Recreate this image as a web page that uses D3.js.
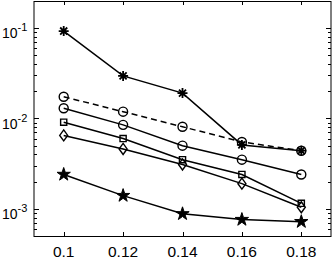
<!DOCTYPE html>
<html lang="en">
<head>
<meta charset="utf-8">
<title>Error plot</title>
<script src="https://d3js.org/d3.v7.min.js"></script>
<style>
  body { margin: 0; background: #fff; }
  text { font-family: "Liberation Sans", Arial, sans-serif; fill: #000; }
</style>
</head>
<body>
<script>
const xVals = [0.1, 0.12, 0.14, 0.16, 0.18];
const xTicks = [0.1, 0.12, 0.14, 0.16, 0.18];
const yMajor = [1e-3, 1e-2, 1e-1];
const yExp = ['-3', '-2', '-1'];

const sAsterisk = [0.093, 0.0296, 0.0191, 0.0051, 0.0044];
const sCircleDash = [0.0174, 0.0119, 0.0081, 0.0055, 0.0044];
const sCircle = [0.0130, 0.0085, 0.0050, 0.0035, 0.0024];
const sSquare = [0.0091, 0.0060, 0.0035, 0.0024, 0.00115];
const sDiamond = [0.0065, 0.0046, 0.0031, 0.0019, 0.00104];
const sStar = [0.0024, 0.0014, 0.00088, 0.00076, 0.00072];

const w = 332, h = 259;
const mLeft = 34, mRight = 331, mTop = 1, mBottom = 236;

const x = d3.scaleLinear().domain([0.09, 0.19]).range([mLeft, mRight]);
const y = d3.scaleLog().domain([5e-4, 0.2]).range([mBottom, mTop]);

const svg = d3.select('body').append('svg')
  .attr('width', w)
  .attr('height', h);

// log minor ticks
const minor = [];
[1e-4, 1e-3, 1e-2, 1e-1].forEach(p => {
  for (let k = 2; k <= 9; k++) {
    const v = k * p;
    if (v >= 5e-4 && v <= 0.2) minor.push(v);
  }
});

const ax = svg.append('g').attr('stroke', '#000').attr('stroke-width', 1);
minor.forEach(v => {
  const yy = Math.round(y(v)) + 0.5;
  ax.append('line').attr('x1', mLeft).attr('x2', mLeft + 3).attr('y1', yy).attr('y2', yy);
  ax.append('line').attr('x1', mRight).attr('x2', mRight - 3).attr('y1', yy).attr('y2', yy);
});
yMajor.forEach(v => {
  const yy = Math.round(y(v)) + 0.5;
  ax.append('line').attr('x1', mLeft).attr('x2', mLeft + 5).attr('y1', yy).attr('y2', yy);
  ax.append('line').attr('x1', mRight).attr('x2', mRight - 5).attr('y1', yy).attr('y2', yy);
});
xTicks.forEach(v => {
  const xx = Math.round(x(v)) + 0.5;
  ax.append('line').attr('x1', xx).attr('x2', xx).attr('y1', mBottom).attr('y2', mBottom - 4);
  ax.append('line').attr('x1', xx).attr('x2', xx).attr('y1', mTop).attr('y2', mTop + 4);
});
ax.append('rect')
  .attr('x', mLeft).attr('y', mTop + 0.5)
  .attr('width', mRight - mLeft).attr('height', mBottom - mTop)
  .attr('fill', 'none');

// tick labels
svg.selectAll('.xl').data(xTicks).enter().append('text')
  .attr('class', 'xl')
  .attr('x', d => x(d))
  .attr('y', 257)
  .attr('text-anchor', 'middle')
  .attr('font-size', 15.5)
  .text(d => d3.format('')(d));

yMajor.forEach((v, i) => {
  const t = svg.append('text')
    .attr('x', 2)
    .attr('y', y(v) + 10)
    .attr('font-size', 14);
  t.append('tspan').text('10');
  t.append('tspan').attr('dy', -7).attr('font-size', 11).text(yExp[i]);
});

// series
const line = d3.line()
  .x((d, i) => x(xVals[i]))
  .y(d => y(d));

const series = [
  { data: sAsterisk, marker: 'asterisk', dash: null },
  { data: sCircleDash, marker: 'circle', dash: '6,4' },
  { data: sCircle, marker: 'circle', dash: null },
  { data: sSquare, marker: 'square', dash: null },
  { data: sDiamond, marker: 'diamond', dash: null },
  { data: sStar, marker: 'star', dash: null }
];

function asteriskPath(r) {
  const a = r * Math.SQRT1_2;
  return `M${-r},0L${r},0M0,${-r}L0,${r}M${-a},${-a}L${a},${a}M${-a},${a}L${a},${-a}`;
}

series.forEach(s => {
  svg.append('path')
    .attr('d', line(s.data))
    .attr('fill', 'none')
    .attr('stroke', '#000')
    .attr('stroke-width', 1.5)
    .attr('stroke-dasharray', s.dash);

  const g = svg.append('g');
  s.data.forEach((v, i) => {
    const m = g.append('path')
      .attr('transform', `translate(${x(xVals[i])},${y(v)})`)
      .attr('stroke', '#000')
      .attr('stroke-width', 1.4);
    if (s.marker === 'asterisk') {
      m.attr('d', asteriskPath(5)).attr('fill', 'none').attr('stroke-width', 1.8);
    } else if (s.marker === 'circle') {
      m.attr('d', d3.symbol(d3.symbolCircle, 64)()).attr('fill', 'none');
    } else if (s.marker === 'square') {
      m.attr('d', d3.symbol(d3.symbolSquare, 38)()).attr('fill', 'none');
    } else if (s.marker === 'diamond') {
      m.attr('d', 'M0,-5.5L4,0L0,5.5L-4,0Z').attr('fill', 'none');
    } else if (s.marker === 'star') {
      m.attr('d', d3.symbol(d3.symbolStar, 55)()).attr('fill', '#000').attr('stroke-width', 1);
    }
  });
});
</script>
</body>
</html>
